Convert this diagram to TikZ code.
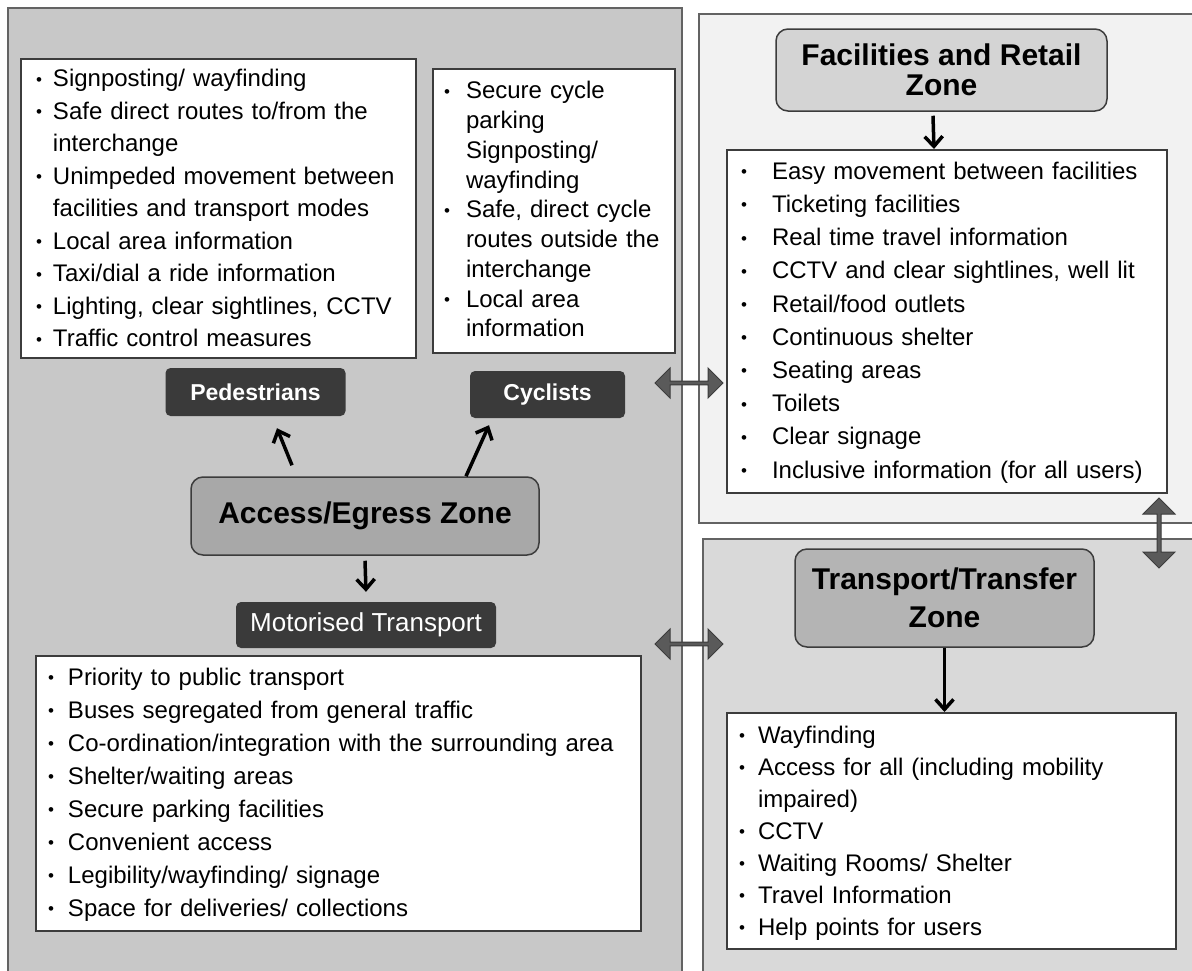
\documentclass[tikz,border=0pt]{standalone}
\usepackage{fontspec}
\setmainfont{Liberation Sans}
\usetikzlibrary{arrows.meta,shapes.arrows}

\definecolor{panelgray}{HTML}{C8C8C8}
\definecolor{toppanel}{HTML}{F2F2F2}
\definecolor{bottompanel}{HTML}{D9D9D9}
\definecolor{accessgray}{HTML}{A8A8A8}
\definecolor{facgray}{HTML}{D4D4D4}
\definecolor{transgray}{HTML}{B4B4B4}
\definecolor{labeldark}{HTML}{3A3A3A}
\definecolor{boxline}{HTML}{3C3C3C}
\definecolor{arrowgray}{HTML}{5A5A5A}

\newcommand{\dotmark}{\raisebox{1.5pt}{\fontsize{17}{17}\selectfont\textbullet}}

% bullet list: #1 text indent from box edge, #2 gap after bullet
\newenvironment{zonelist}[2]{%
  \begin{list}{\dotmark}{\setlength{\leftmargin}{#1}\setlength{\labelsep}{#2}%
    \setlength{\labelwidth}{1em}\setlength{\itemsep}{0pt}\setlength{\parsep}{0pt}%
    \setlength{\topsep}{0pt}\setlength{\partopsep}{0pt}\setlength{\itemindent}{0pt}}}%
  {\end{list}}

\begin{document}
\begin{tikzpicture}[x=1pt,y=-1pt,
  panel/.style={draw=boxline!80, line width=1.5pt},
  listbox/.style={draw=boxline, fill=white, line width=2pt, anchor=north west,
    inner xsep=0pt, inner ysep=0pt, text height=0pt, align=left},
  zonetitle/.style={draw=boxline, line width=1.5pt, rounded corners=12pt,
    align=center, inner sep=0pt},
  modelabel/.style={fill=labeldark, text=white, rounded corners=5pt, inner sep=0pt},
  link/.style={-{Straight Barb[length=10pt,width=18pt]}, line width=3.5pt},
  twoway/.style={double arrow, fill=arrowgray, draw=boxline, line width=1pt,
    inner sep=0pt, double arrow head extend=3.5pt}
]
\useasboundingbox (0,0) rectangle (1192,970);
\fill[white] (0,0) rectangle (1192,970);

%%%%% panels
\draw[panel, fill=panelgray] (8,8) rectangle (682,985);
\draw[panel, fill=toppanel] (699,14) rectangle (1205,523);
\draw[panel, fill=bottompanel] (703,539) rectangle (1205,985);

%%%%% access/egress zone
\node[listbox, text width=395pt, inner ysep=-5pt, text depth=309pt, font=\fontsize{24}{32.5}\selectfont] (pedlist) at (20,58) {%
\begin{zonelist}{32pt}{11pt}
\item Signposting/ wayfinding
\item Safe direct routes to/from the\newline interchange
\item Unimpeded movement between\newline facilities and transport modes
\item Local area information
\item Taxi/dial a ride information
\item Lighting, clear sightlines, CCTV
\item Traffic control measures
\end{zonelist}};

\node[listbox, text width=242pt, text depth=284pt, font=\fontsize{24}{29.75}\selectfont] (cyclist) at (432,68) {%
\begin{zonelist}{33pt}{16pt}
\item Secure cycle\newline parking\newline Signposting/\newline wayfinding
\item Safe, direct cycle\newline routes outside the\newline interchange
\item Local area\newline information
\end{zonelist}};

\node[modelabel, minimum width=180pt, minimum height=48pt, font=\bfseries\fontsize{23}{23}\selectfont] (ped) at (255.5,392) {Pedestrians};
\node[modelabel, minimum width=155pt, minimum height=47pt, font=\bfseries\fontsize{23}{23}\selectfont] (cyc) at (547.5,394.5) {Cyclists};

\node[zonetitle, fill=accessgray, minimum width=348pt, minimum height=78pt, font=\bfseries\fontsize{30}{30}\selectfont] (access) at (365,516) {Access/Egress Zone};

\node[modelabel, minimum width=260pt, minimum height=46pt, font=\fontsize{26}{26}\selectfont] (motor) at (366,625) {Motorised Transport};

\node[listbox, text width=605pt, inner ysep=-4pt, text depth=283pt, font=\fontsize{24}{33}\selectfont] (motorlist) at (35,655) {%
\begin{zonelist}{32pt}{14pt}
\item Priority to public transport
\item Buses segregated from general traffic
\item Co-ordination/integration with the surrounding area
\item Shelter/waiting areas
\item Secure parking facilities
\item Convenient access
\item Legibility/wayfinding/ signage
\item Space for deliveries/ collections
\end{zonelist}};

\draw[link] ([xshift=-73pt,yshift=11pt]access.north) -- ([xshift=21.5pt,yshift=-12pt]ped.south);
\draw[link] ([xshift=101pt]access.north) -- ([xshift=-58.5pt,yshift=-7pt]cyc.south);
\draw[link] ([yshift=-5pt]access.south) -- ([yshift=10pt]motor.north);

%%%%% facilities and retail zone
\node[zonetitle, fill=facgray, minimum width=331pt, minimum height=82pt, font=\bfseries\fontsize{30}{30}\selectfont] (factitle) at (941.5,70) {Facilities and Retail\\Zone};

\node[listbox, text width=440pt, inner ysep=-4pt, text depth=351pt, font=\fontsize{24}{33.2}\selectfont] (faclist) at (726,149) {%
\begin{zonelist}{45pt}{25pt}
\item Easy movement between facilities
\item Ticketing facilities
\item Real time travel information
\item CCTV and clear sightlines, well lit
\item Retail/food outlets
\item Continuous shelter
\item Seating areas
\item Toilets
\item Clear signage
\item Inclusive information (for all users)
\end{zonelist}};

\draw[link] ([xshift=-8.5pt,yshift=-4pt]factitle.south) -- ([xshift=-13pt]faclist.north);

%%%%% transport/transfer zone
\node[zonetitle, fill=transgray, minimum width=299pt, minimum height=98pt, font=\bfseries\fontsize{30}{38}\selectfont] (transtitle) at (944.5,598) {Transport/Transfer\\Zone};

\node[listbox, text width=449pt, inner ysep=-2pt, text depth=240pt, font=\fontsize{24}{32}\selectfont] (translist) at (726,712) {%
\begin{zonelist}{31pt}{13pt}
\item Wayfinding
\item Access for all (including mobility\newline impaired)
\item CCTV
\item Waiting Rooms/ Shelter
\item Travel Information
\item Help points for users
\end{zonelist}};

\draw[link] (transtitle.south) -- (transtitle.south |- translist.north);

%%%%% links between zones
\node[twoway, minimum height=68pt, minimum width=30pt] (linktop) at (689,383) {};
\node[twoway, minimum height=68pt, minimum width=30pt] (linkbottom) at (689,644) {};
\node[twoway, shape border rotate=90, minimum height=70pt, minimum width=32pt] (linkright) at (1159,533) {};

\end{tikzpicture}
\end{document}
